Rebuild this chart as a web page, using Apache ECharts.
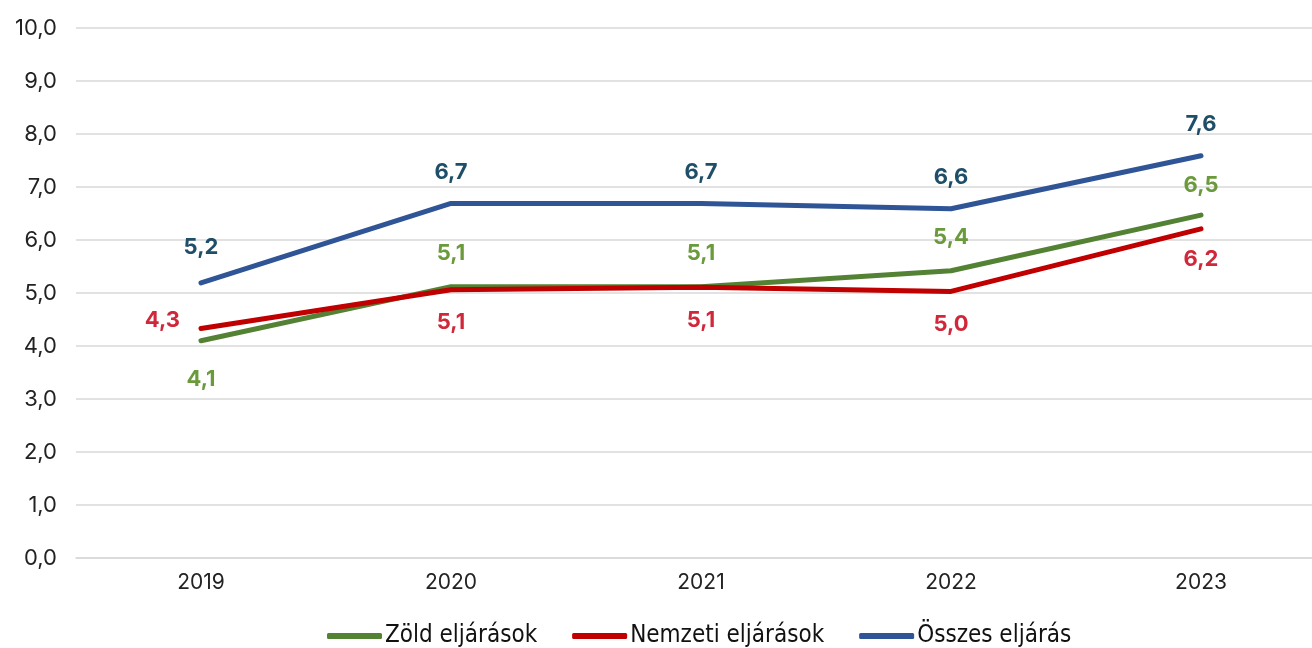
<!DOCTYPE html>
<html>
<head>
<meta charset="utf-8">
<script src="https://cdn.jsdelivr.net/npm/echarts@6/dist/echarts.min.js"></script>
<style>
  html, body { margin: 0; padding: 0; background: #fff; }
  #main { width: 1312px; height: 648px; }
</style>
</head>
<body>
<div id="main"></div>
<script>
var years = ['2019', '2020', '2021', '2022', '2023'];
var zold = [4.1, 5.12, 5.12, 5.42, 6.47];
var nemzeti = [4.33, 5.06, 5.11, 5.03, 6.21];
var osszes = [5.19, 6.69, 6.69, 6.59, 7.59];

var myChart = echarts.init(document.getElementById('main'));

function fmt(v) {
    return v.toFixed(1).replace('.', ',');
}

// label helyzetek pontonként
function withLabels(values, labels) {
    return values.map(function (v, i) {
        return { value: v, label: labels[i] };
    });
}

var labelFont = { fontFamily: 'Inter', fontWeight: 'bold', fontSize: 22 };

var option = {
    animation: false,
    grid: { left: 76, top: 28, right: -14, bottom: 90, outerBoundsMode: 'none' },
    legend: {
        top: 619,
        left: 322,
        itemWidth: 55,
        itemHeight: 6,
        itemGap: 35,
        icon: 'roundRect',
        textStyle: { fontFamily: 'DejaVu Sans Condensed', fontSize: 24, color: '#111', padding: [0, 0, 0, -2] },
        data: [
            { name: 'Zöld eljárások', itemStyle: { color: '#548235' } },
            { name: 'Nemzeti eljárások', itemStyle: { color: '#c00000' } },
            { name: 'Összes eljárás', itemStyle: { color: '#2f5597' } }
        ]
    },
    xAxis: {
        type: 'category',
        data: years,
        axisTick: { show: false },
        axisLine: { lineStyle: { color: '#d9d9d9', width: 1.5 } },
        axisLabel: { fontFamily: 'Inter', fontSize: 21, color: '#222', margin: 14 }
    },
    yAxis: {
        type: 'value',
        min: 0,
        max: 10,
        interval: 1,
        axisLabel: { fontFamily: 'Inter', fontSize: 22, color: '#222', margin: 19, formatter: fmt },
        splitLine: { lineStyle: { color: '#d9d9d9', width: 1.5 } }
    },
    series: [{
        name: 'Zöld eljárások',
        type: 'line',
        data: withLabels(zold, [
            { position: 'bottom', distance: 28 },
            { position: 'top' }, { position: 'top' }, { position: 'top' },
            { position: 'top', distance: 19 }
        ]),
        symbol: 'circle',
        symbolSize: 0.1,
        lineStyle: { width: 5, color: '#548235', cap: 'round' },
        itemStyle: { color: '#548235' },
        label: Object.assign({ show: true, distance: 22, color: '#6b9a3c', formatter: function (p) { return fmt(p.value); } }, labelFont)
    }, {
        name: 'Nemzeti eljárások',
        type: 'line',
        data: withLabels(nemzeti, [
            { position: 'left', distance: 21, offset: [0, -8] },
            { position: 'bottom' }, { position: 'bottom' }, { position: 'bottom' },
            { position: 'bottom', distance: 19 }
        ]),
        symbol: 'circle',
        symbolSize: 0.1,
        lineStyle: { width: 5, color: '#c00000', cap: 'round' },
        itemStyle: { color: '#c00000' },
        label: Object.assign({ show: true, distance: 22, color: '#d0283a', formatter: function (p) { return fmt(p.value); } }, labelFont)
    }, {
        name: 'Összes eljárás',
        type: 'line',
        data: withLabels(osszes, [
            { position: 'top', distance: 24 },
            { position: 'top' }, { position: 'top' }, { position: 'top' }, { position: 'top' }
        ]),
        symbol: 'circle',
        symbolSize: 0.1,
        lineStyle: { width: 5, color: '#2f5597', cap: 'round' },
        itemStyle: { color: '#2f5597' },
        label: Object.assign({ show: true, distance: 20, color: '#1f4e69', formatter: function (p) { return fmt(p.value); } }, labelFont)
    }]
};

myChart.setOption(option);
</script>
</body>
</html>
